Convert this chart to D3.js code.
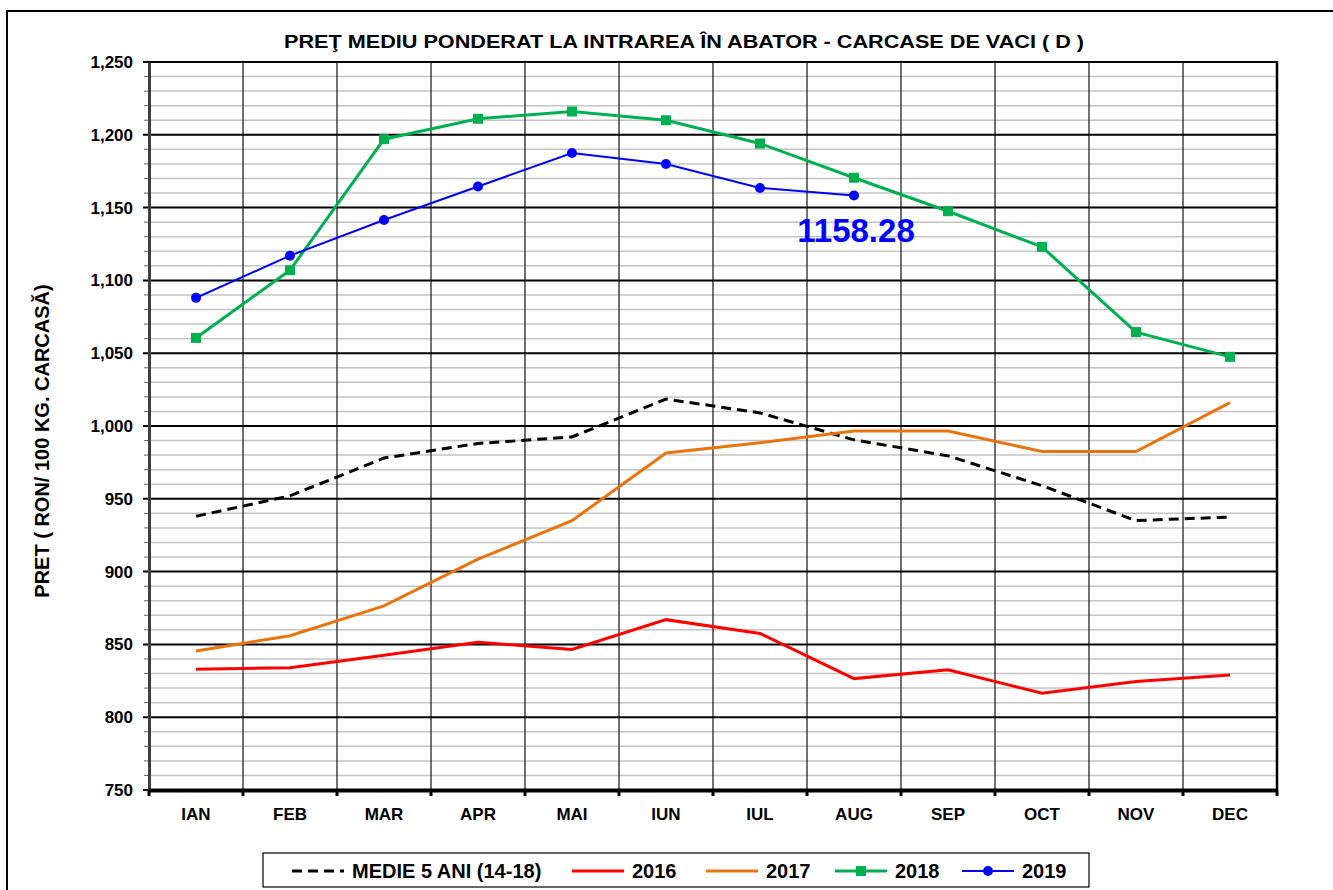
<!DOCTYPE html>
<meta charset="utf-8">
<style>
    body { margin: 0; background: #fff; }
    svg text { font-family: "Liberation Sans", Arial, sans-serif; font-weight: bold; fill: #000; }
</style>
<svg width="1333" height="890"></svg>
<script src="https://cdn.jsdelivr.net/npm/d3@7"></script>
<script>

    var months = ["IAN", "FEB", "MAR", "APR", "MAI", "IUN", "IUL", "AUG", "SEP", "OCT", "NOV", "DEC"];
    var medie = [938, 952, 978, 988, 992.5, 1018.5, 1009, 990.5, 979.5, 959, 935, 937.5];
    var y2016 = [833, 834, 842.5, 851.5, 846.5, 867, 857.5, 826.5, 832.5, 816.5, 824.5, 829];
    var y2017 = [845.5, 856, 876.5, 908.5, 935, 981.5, 988.5, 996.5, 996.5, 982.5, 982.5, 1016];
    var y2018 = [1060.5, 1107, 1197, 1211, 1216, 1210, 1194, 1170.5, 1147.5, 1123, 1064.5, 1047.5];
    var y2019 = [1088, 1117, 1141.5, 1164.5, 1187.5, 1180, 1163.5, 1158.28];
    var yTicks = [750, 800, 850, 900, 950, 1000, 1050, 1100, 1150, 1200, 1250];

    var svg = d3.select("svg"),
        pLeft = 149, pRight = 1277, pTop = 62, pBottom = 790;

    var x = d3.scaleBand().domain(months).range([pLeft, pRight]);
    var y = d3.scaleLinear().domain([750, 1250]).range([pBottom, pTop]);
    var cx = function (d, i) { return x(months[i]) + x.bandwidth() / 2; };

    svg.append("rect").attr("width", 1333).attr("height", 890).attr("fill", "#fff");
    // outer frame
    svg.append("rect").attr("x", 7).attr("y", 11).attr("width", 1340).attr("height", 900)
        .attr("fill", "none").attr("stroke", "#000").attr("stroke-width", 2);

    svg.append("text").attr("x", 684).attr("y", 48).attr("text-anchor", "middle")
        .attr("textLength", 800).attr("lengthAdjust", "spacingAndGlyphs")
        .style("font-size", "19px")
        .text("PREŢ MEDIU PONDERAT LA INTRAREA ÎN ABATOR - CARCASE DE VACI ( D )");

    // minor gridlines every 10
    var minor = d3.range(760, 1250, 10).filter(function (v) { return v % 50 !== 0; });
    svg.append("g").selectAll("line").data(minor).enter().append("line")
        .attr("x1", pLeft).attr("x2", pRight)
        .attr("y1", function (d) { return y(d); }).attr("y2", function (d) { return y(d); })
        .attr("stroke", "#c4c4c4").attr("stroke-width", 1.5);
    svg.append("g").selectAll("line").data(minor).enter().append("line")
        .attr("x1", pLeft - 5).attr("x2", pLeft)
        .attr("y1", function (d) { return y(d); }).attr("y2", function (d) { return y(d); })
        .attr("stroke", "#666").attr("stroke-width", 1);

    // vertical gridlines
    svg.append("g").selectAll("line").data(months.slice(1)).enter().append("line")
        .attr("x1", function (d) { return x(d); }).attr("x2", function (d) { return x(d); })
        .attr("y1", pTop).attr("y2", pBottom)
        .attr("stroke", "#111").attr("stroke-width", 1.2);

    // major gridlines
    svg.append("g").selectAll("line").data(yTicks).enter().append("line")
        .attr("x1", pLeft - 6).attr("x2", pRight)
        .attr("y1", function (d) { return y(d); }).attr("y2", function (d) { return y(d); })
        .attr("stroke", "#000").attr("stroke-width", 2);

    svg.append("line").attr("x1", pRight).attr("x2", pRight).attr("y1", pTop - 1).attr("y2", pBottom)
        .attr("stroke", "#000").attr("stroke-width", 2.5);

    // left axis
    var yAxis = d3.axisLeft(y).tickValues(yTicks).tickSize(0).tickPadding(16)
        .tickFormat(d3.format(","));
    var ya = svg.append("g").attr("transform", "translate(" + pLeft + ",0)").call(yAxis);
    ya.select(".domain").attr("stroke", "#404040").attr("stroke-width", 3);
    ya.selectAll("text").style("font-size", "17px").attr("font-family", null);

    // bottom axis
    var xa = svg.append("g").attr("transform", "translate(0," + pBottom + ")")
        .call(d3.axisBottom(x).tickSize(0).tickPadding(18));
    xa.select(".domain").attr("stroke", "#000").attr("stroke-width", 4);
    xa.selectAll("text").style("font-size", "17px").attr("font-family", null);
    svg.append("g").selectAll("line").data(months.concat(["end"])).enter().append("line")
        .attr("x1", function (d, i) { return pLeft + i * x.bandwidth(); })
        .attr("x2", function (d, i) { return pLeft + i * x.bandwidth(); })
        .attr("y1", pBottom).attr("y2", pBottom + 6)
        .attr("stroke", "#000").attr("stroke-width", 3);

    svg.append("text").attr("transform", "translate(49,441) rotate(-90)")
        .attr("text-anchor", "middle").style("font-size", "20px")
        .text("PRET ( RON/ 100 KG. CARCASĂ)");

    var line = d3.line().x(cx).y(function (d) { return y(d); });

    svg.append("path").datum(medie).attr("d", line).attr("fill", "none")
        .attr("stroke", "#000").attr("stroke-width", 3).attr("stroke-dasharray", "10,6");
    svg.append("path").datum(y2016).attr("d", line).attr("fill", "none")
        .attr("stroke", "#ff0000").attr("stroke-width", 3);
    svg.append("path").datum(y2017).attr("d", line).attr("fill", "none")
        .attr("stroke", "#e8740f").attr("stroke-width", 3);
    svg.append("path").datum(y2018).attr("d", line).attr("fill", "none")
        .attr("stroke", "#00b050").attr("stroke-width", 3);
    svg.append("g").selectAll("rect").data(y2018).enter().append("rect")
        .attr("x", function (d, i) { return cx(d, i) - 5; })
        .attr("y", function (d) { return y(d) - 5; })
        .attr("width", 10).attr("height", 10).attr("fill", "#00b050");
    svg.append("path").datum(y2019).attr("d", line).attr("fill", "none")
        .attr("stroke", "#0000ff").attr("stroke-width", 2);
    svg.append("g").selectAll("circle").data(y2019).enter().append("circle")
        .attr("cx", cx).attr("cy", function (d) { return y(d); })
        .attr("r", 5).attr("fill", "#0000ff");

    svg.append("text").attr("x", 856).attr("y", 242).attr("text-anchor", "middle")
        .style("font-size", "33px").style("fill", "#0000ff")
        .text(y2019[y2019.length - 1]);

    // legend
    var lg = svg.append("g");
    lg.append("rect").attr("x", 263).attr("y", 853).attr("width", 826).attr("height", 34)
        .attr("fill", "#fff").attr("stroke", "#000").attr("stroke-width", 1.2);
    var items = [
        {label: "MEDIE 5 ANI (14-18)", color: "#000", x: 292, dash: "10,6", w: 3},
        {label: "2016", color: "#ff0000", x: 572, w: 3},
        {label: "2017", color: "#e8740f", x: 706, w: 3},
        {label: "2018", color: "#00b050", x: 835, w: 3, mark: "sq"},
        {label: "2019", color: "#0000ff", x: 962, w: 2, mark: "ci"}
    ];
    items.forEach(function (it) {
        lg.append("line").attr("x1", it.x).attr("x2", it.x + 52).attr("y1", 871).attr("y2", 871)
            .attr("stroke", it.color).attr("stroke-width", it.w)
            .attr("stroke-dasharray", it.dash || null);
        if (it.mark === "sq") {
            lg.append("rect").attr("x", it.x + 21).attr("y", 866).attr("width", 10).attr("height", 10)
                .attr("fill", it.color);
        } else if (it.mark === "ci") {
            lg.append("circle").attr("cx", it.x + 26).attr("cy", 871).attr("r", 5).attr("fill", it.color);
        }
        lg.append("text").attr("x", it.x + 60).attr("y", 878).style("font-size", "20px").text(it.label);
    });
</script>
